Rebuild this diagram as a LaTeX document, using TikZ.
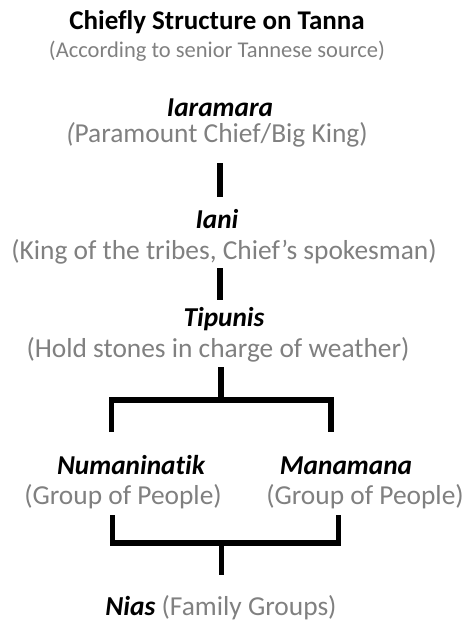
\documentclass[tikz,border=0pt]{standalone}
\usepackage{fontspec}
\setmainfont[Ligatures=NoCommon]{Carlito}
\definecolor{txtgray}{RGB}{128,128,128}
\begin{document}
\begin{tikzpicture}[x=1pt,y=-1pt,
  ttl/.style={anchor=base,inner sep=0pt,font=\fontsize{27}{31}\selectfont\bfseries},
  subt/.style={anchor=base,inner sep=0pt,text=txtgray,font=\fontsize{22.5}{26}\selectfont},
  nm/.style={anchor=base,inner sep=0pt,font=\fontsize{27.3}{31}\selectfont\bfseries\itshape},
  dsc/.style={anchor=base,inner sep=0pt,text=txtgray,font=\fontsize{27.4}{31}\selectfont},
  conn/.style={line width=5.5pt,line cap=butt,line join=miter}]
\useasboundingbox (0,0) rectangle (465,621);
\node[ttl] (t) at (217,29) {Chiefly Structure on Tanna};
\node[subt] (s) at (217,57) {(According to senior Tannese source)};
\node[nm] (iar) at (220,116) {Iaramara};
\node[dsc] (iard) at (217,142) {\textit{(}Paramount Chief/Big King)};
\node[nm] (iani) at (217,228) {Iani};
\node[dsc] (ianid) at (224,259) {(King of the tribes, Chief’s spokesman)};
\node[nm] (tip) at (224,326) {Tipunis};
\node[dsc] (tipd) at (218,357) {(Hold stones in charge of weather)};
\node[nm] (num) at (131,474) {Numaninatik};
\node[dsc] (numd) at (123,504) {(Group of People)};
\node[nm] (man) at (346,474) {Manamana};
\node[dsc] (mand) at (365,504) {(Group of People)};
\node[anchor=base,inner sep=0pt] (nias) at (221,615) {\fontsize{27.4}{31}\selectfont\textbf{\textit{Nias}} \textcolor{txtgray}{(Family Groups)}};
% connectors
\coordinate (a1) at (220,163); \coordinate (a2) at (220,197);
\coordinate (b1) at (220,268); \coordinate (b2) at (220,300);
\coordinate (c1) at (221,367); \coordinate (c2) at (221,400);
\coordinate (cl) at (111.5,400); \coordinate (cr) at (331,400);
\coordinate (cl2) at (111.5,432); \coordinate (cr2) at (331,432);
\coordinate (dl) at (112.5,515); \coordinate (dr) at (338.5,515);
\coordinate (dl2) at (112.5,543); \coordinate (dr2) at (338.5,543);
\coordinate (d1) at (221.5,543); \coordinate (d2) at (221.5,575);
\draw[conn] (a1) -- (a2);
\draw[conn] (b1) -- (b2);
\draw[conn] (c1) -- (c2);
\draw[conn] (cl2) -- (cl) -- (cr) -- (cr2);
\draw[conn] (dl) -- (dl2) -- (dr2) -- (dr);
\draw[conn] (d1) -- (d2);
\end{tikzpicture}
\end{document}
